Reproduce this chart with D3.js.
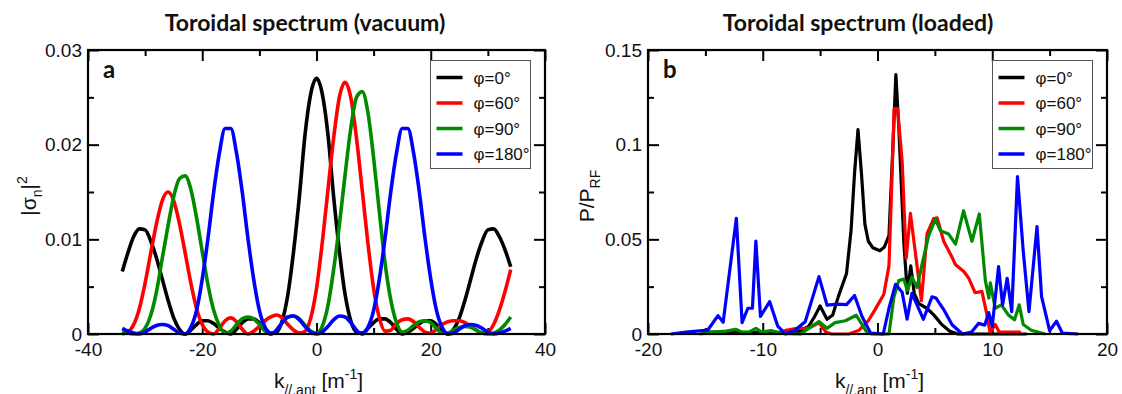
<!DOCTYPE html>
<html>
<head>
<meta charset="utf-8">
<title>Toroidal spectrum</title>
<style>
  body { margin: 0; background: #fff; }
  svg { display: block; }
  text { font-family: "Liberation Sans", Arial, sans-serif; fill: #111; }
</style>
</head>
<body>
<div id="container"></div>
<script src="https://d3js.org/d3.v7.min.js"></script>
<script>
// ---- panel a: vacuum spectrum, sampled every 1 m^-1 ----
const kVacuum = [
  -34, -33, -32, -31, -30, -29, -28, -27, -26, -25,
  -24, -23, -22, -21, -20, -19, -18, -17, -16, -15,
  -14, -13, -12, -11, -10, -9, -8, -7, -6, -5,
  -4, -3, -2, -1, 0, 1, 2, 3, 4, 5,
  6, 7, 8, 9, 10, 11, 12, 13, 14, 15,
  16, 17, 18, 19, 20, 21, 22, 23, 24, 25,
  26, 27, 28, 29, 30, 31, 32, 33, 34
];
const vacPhi0 = [
  .0066, .0086, .0103, .0111, .0110, .0098, .0080, .0058, .0036, .0017,
  .0005, .0000, .0004, .0010, .0014, .0014, .0011, .0006, .0002, .0000,
  .0005, .0012, .0016, .0016, .0012, .0006, .0001, .0002, .0014, .0042,
  .0088, .0145, .0211, .0254, .0270, .0254, .0211, .0145, .0088, .0042,
  .0014, .0002, .0001, .0006, .0012, .0016, .0016, .0012, .0005, .0000,
  .0002, .0006, .0011, .0014, .0014, .0010, .0004, .0000, .0005, .0017,
  .0036, .0058, .0080, .0098, .0110, .0111, .0103, .0089, .0071
];
const vacPhi60 = [
  .0000, .0002, .0010, .0027, .0054, .0086, .0117, .0141, .0150, .0141,
  .0117, .0086, .0054, .0027, .0010, .0002, .0000, .0006, .0014, .0017,
  .0013, .0005, .0000, .0003, .0008, .0014, .0018, .0020, .0017, .0010,
  .0004, .0001, .0003, .0017, .0048, .0096, .0152, .0207, .0250, .0266,
  .0250, .0207, .0152, .0096, .0048, .0017, .0003, .0004, .0011, .0015,
  .0016, .0013, .0007, .0002, .0001, .0005, .0010, .0013, .0014, .0014,
  .0012, .0008, .0004, .0001, .0002, .0010, .0025, .0045, .0068
];
const vacPhi90 = [
  .0003, .0001, .0000, .0001, .0006, .0020, .0045, .0080, .0114, .0145,
  .0164, .0167, .0153, .0123, .0087, .0052, .0025, .0009, .0001, .0003,
  .0010, .0016, .0018, .0016, .0010, .0003, .0000, .0004, .0012, .0018,
  .0019, .0016, .0009, .0003, .0001, .0008, .0030, .0068, .0115, .0168,
  .0217, .0250, .0256, .0234, .0186, .0129, .0075, .0036, .0012, .0002,
  .0004, .0009, .0013, .0014, .0012, .0006, .0001, .0001, .0004, .0007,
  .0008, .0007, .0004, .0001, .0000, .0001, .0004, .0010, .0018
];
const vacPhi180 = [
  .0006, .0003, .0001, .0000, .0002, .0006, .0009, .0010, .0009, .0005,
  .0001, .0000, .0007, .0025, .0058, .0101, .0150, .0191, .0217, .0217,
  .0191, .0150, .0101, .0058, .0025, .0007, .0000, .0004, .0012, .0018,
  .0019, .0015, .0008, .0002, .0000, .0002, .0008, .0015, .0019, .0018,
  .0012, .0004, .0000, .0007, .0025, .0058, .0101, .0150, .0191, .0217,
  .0217, .0191, .0150, .0101, .0058, .0025, .0007, .0000, .0001, .0005,
  .0009, .0010, .0009, .0006, .0002, .0000, .0001, .0003, .0006
];

// ---- panel b: loaded spectrum (piecewise linear traces) ----
const kLoad0 = [-15, -10, -7, -6, -5.5, -5.0, -4.4, -3.9, -3.4, -2.7, -2.3, -2.0, -1.7, -1.4, -1.1, -0.8, -0.4, 0.2, 0.6, 1.0, 1.35, 1.6, 1.85, 2.3, 2.6, 2.9, 3.2, 3.6, 4.3, 4.9, 5.6, 6.3, 7.0, 13];
const pLoad0 = [.001, .0008, .001, .004, .009, .0148, .0078, .010, .020, .032, .055, .085, .108, .085, .058, .049, .0455, .044, .046, .052, .100, .137, .110, .048, .0215, .036, .0215, .016, .0136, .0101, .005, .0015, 0, 0];

const kLoad60 = [-8.5, -8.0, -7, -6, -5.1, -4.5, -4, -2.5, -1.6, -0.8, -0.2, 0.55, 1.0, 1.2, 1.45, 1.75, 2.15, 2.5, 2.87, 3.3, 3.83, 4.32, 4.9, 5.2, 5.77, 6.5, 6.8, 7.5, 7.94, 8.5, 9.1, 9.54, 9.8, 10.26, 10.6, 12.5];
const pLoad60 = [0, .002, .003, .003, .006, .001, 0, 0, .002, .007, .013, .021, .036, .071, .119, .119, .091, .040, .0637, .043, .0176, .053, .061, .0613, .049, .0405, .0366, .0331, .0296, .0218, .0225, .0101, .001, .005, .001, .001];

const kLoad90 = [-15.5, -14.4, -13.2, -12.35, -11.8, -11.2, -10.6, -10.1, -9.3, -8.3, -6.7, -6.0, -5.1, -4.4, -3.7, -2.8, -1.85, -1.0, -0.5, 1.0, 1.42, 1.85, 2.3, 2.6, 3.0, 3.45, 3.88, 4.46, 5.04, 5.48, 6.2, 6.8, 7.5, 8.23, 8.87, 9.4, 9.7, 9.83, 10.26, 10.8, 11.4, 11.94, 12.35, 12.7, 13.4, 14.6];
const pLoad90 = [0, .001, .0015, .0025, .001, .001, .003, .001, .0018, .0003, 0, .003, .0066, .003, .006, .007, .0099, .0015, 0, 0, .0192, .0282, .029, .023, .030, .0246, .0368, .052, .0607, .0546, .0528, .0475, .0651, .049, .0634, .0282, .019, .027, .0136, .0154, .0101, .0075, .0154, .005, .002, 0];

const kLoad180 = [-18, -16.7, -14.8, -13.9, -13.45, -12.3, -11.8, -11.3, -10.9, -10.6, -10.2, -9.4, -8.7, -8.0, -7.2, -6.3, -5.1, -4.4, -3.5, -2.7, -2.0, -1.35, -0.6, 0.5, 1.0, 1.57, 2.15, 2.58, 3.0, 3.45, 4.0, 4.75, 5.1, 5.77, 6.5, 7.4, 8.2, 8.8, 9.35, 9.7, 10.0, 10.55, 10.9, 11.3, 11.7, 12.2, 12.7, 13.2, 13.9, 14.3, 15.0, 15.6, 16.1, 17.5];
const pLoad180 = [0, .001, .002, .0097, .0062, .0611, .006, .0136, .0136, .0491, .0093, .0171, .0042, 0, .002, .0065, .0303, .0153, .0158, .0155, .0203, .0092, .0005, 0, .0136, .0262, .022, .0078, .0215, .0153, .0078, .0196, .019, .0129, .0049, 0, .001, .0056, .0047, .0113, .004, .0356, .0153, .0294, .0118, .0831, .0438, .0118, .0567, .0197, .0018, .0067, .0005, 0];

const legendLabels = ["φ=0°", "φ=60°", "φ=90°", "φ=180°"];
const seriesColors = ["#000000", "#ff0000", "#008a00", "#0000ff"];

const width = 1122, height = 394;

const svg = d3.select("#container").append("svg")
    .attr("width", width)
    .attr("height", height);

/**
 * draws one framed panel with inward ticks on all four sides
 */
function drawPanel(o) {
    const x = d3.scaleLinear().domain(o.xDomain).range([o.left, o.right]);
    const y = d3.scaleLinear().domain(o.yDomain).range([o.bottom, o.top]);
    const g = svg.append("g");
    const fmt = d => String(d);

    // minor ticks
    g.append("g").attr("transform", `translate(0,${o.bottom})`)
        .call(d3.axisBottom(x).tickValues(o.xMinor).tickSize(-6).tickFormat(""));
    g.append("g").attr("transform", `translate(0,${o.top})`)
        .call(d3.axisTop(x).tickValues(o.xMinor).tickSize(-6).tickFormat(""));
    g.append("g").attr("transform", `translate(${o.left},0)`)
        .call(d3.axisLeft(y).tickValues(o.yMinor).tickSize(-6).tickFormat(""));
    g.append("g").attr("transform", `translate(${o.right},0)`)
        .call(d3.axisRight(y).tickValues(o.yMinor).tickSize(-6).tickFormat(""));

    // major ticks with labels
    g.append("g").attr("class", "lab").attr("transform", `translate(0,${o.bottom})`)
        .call(d3.axisBottom(x).tickValues(o.xMajor).tickSize(-11).tickPadding(9).tickFormat(fmt));
    g.append("g").attr("transform", `translate(0,${o.top})`)
        .call(d3.axisTop(x).tickValues(o.xMajor).tickSize(-11).tickFormat(""));
    g.append("g").attr("class", "lab").attr("transform", `translate(${o.left},0)`)
        .call(d3.axisLeft(y).tickValues(o.yMajor).tickSize(-11).tickPadding(6).tickFormat(fmt));
    g.append("g").attr("transform", `translate(${o.right},0)`)
        .call(d3.axisRight(y).tickValues(o.yMajor).tickSize(-11).tickFormat(""));

    g.selectAll(".domain").remove();
    g.selectAll(".tick line").attr("stroke", "#000").attr("stroke-width", 2);
    g.selectAll(".lab text")
        .attr("font-family", "'Liberation Sans', Arial, sans-serif")
        .attr("font-size", 19)
        .attr("fill", "#111");

    // curves
    const line = d3.line()
        .x(d => x(d[0]))
        .y(d => y(d[1]))
        .curve(o.curve);
    g.append("g")
        .selectAll("path")
        .data(o.series)
        .join("path")
        .attr("d", d => line(d3.zip(d.k, d.v)))
        .attr("fill", "none")
        .attr("stroke", (d, i) => seriesColors[i])
        .attr("stroke-width", o.lineWidth)
        .attr("stroke-linejoin", "round");

    // frame
    g.append("rect")
        .attr("x", o.left).attr("y", o.top)
        .attr("width", o.right - o.left).attr("height", o.bottom - o.top)
        .attr("fill", "none").attr("stroke", "#000").attr("stroke-width", 2.2);

    // legend
    const lg = g.append("g").attr("transform", `translate(${o.legendX},${o.legendY})`);
    lg.append("rect")
        .attr("width", 100).attr("height", 108)
        .attr("fill", "#fff").attr("stroke", "#555").attr("stroke-width", 1);
    const rows = lg.selectAll("g.row")
        .data(legendLabels)
        .join("g")
        .attr("class", "row")
        .attr("transform", (d, i) => `translate(0,${17 + i * 25.5})`);
    rows.append("line")
        .attr("x1", 6).attr("x2", 32)
        .attr("stroke", (d, i) => seriesColors[i])
        .attr("stroke-width", 3.5);
    rows.append("text")
        .attr("x", 43).attr("y", 6)
        .attr("font-size", 17)
        .text(d => d);

    // title
    svg.append("text")
        .attr("x", o.titleX).attr("y", 31)
        .attr("text-anchor", "middle")
        .style("font-family", "Lato, 'Open Sans', sans-serif")
        .attr("font-weight", "bold")
        .attr("font-size", 23)
        .text(o.title);

    // panel letter
    svg.append("text")
        .attr("x", o.left + 15).attr("y", 78)
        .style("font-family", "Lato, 'Open Sans', sans-serif")
        .attr("font-weight", "bold")
        .attr("font-size", 24)
        .text(o.letter);

    // x label: k_{//,ant} [m^-1]
    const xl = svg.append("text")
        .attr("x", (o.left + o.right) / 2 + 2).attr("y", 388)
        .attr("text-anchor", "middle")
        .attr("font-size", 21);
    xl.append("tspan").text("k");
    xl.append("tspan").attr("dy", 7).attr("font-size", 14).text("//,ant");
    xl.append("tspan").attr("dy", -7).text(" [m");
    xl.append("tspan").attr("dy", -9).attr("font-size", 14).text("-1");
    xl.append("tspan").attr("dy", 9).text("]");

    // y label (rotated)
    const yl = svg.append("text")
        .attr("transform", `translate(${o.yLabelX},${o.yLabelY}) rotate(-90)`)
        .attr("text-anchor", "middle")
        .attr("font-size", 21);
    o.yLabel(yl);

    return { x, y };
}

drawPanel({
    left: 88, right: 545, top: 50, bottom: 334,
    xDomain: [-40, 40], yDomain: [0, 0.03],
    xMajor: [-40, -20, 0, 20, 40], xMinor: [-30, -10, 10, 30],
    yMajor: [0, 0.01, 0.02, 0.03], yMinor: [0.005, 0.015, 0.025],
    curve: d3.curveMonotoneX,
    lineWidth: 3.6,
    series: [
        { k: kVacuum, v: vacPhi0 },
        { k: kVacuum, v: vacPhi60 },
        { k: kVacuum, v: vacPhi90 },
        { k: kVacuum, v: vacPhi180 }
    ],
    legendX: 430.5, legendY: 60.5,
    title: "Toroidal spectrum (vacuum)", titleX: 305,
    letter: "a",
    yLabelX: 36, yLabelY: 196,
    yLabel: t => {
        t.append("tspan").text("|σ");
        t.append("tspan").attr("dy", 6).attr("font-size", 14).text("n");
        t.append("tspan").attr("dy", -6).text("|");
        t.append("tspan").attr("dy", -9).attr("font-size", 14).text("2");
    }
});

drawPanel({
    left: 648, right: 1107, top: 50, bottom: 334,
    xDomain: [-20, 20], yDomain: [0, 0.15],
    xMajor: [-20, -10, 0, 10, 20], xMinor: [-15, -5, 5, 15],
    yMajor: [0, 0.05, 0.1, 0.15], yMinor: [0.025, 0.075, 0.125],
    curve: d3.curveLinear,
    lineWidth: 3.2,
    series: [
        { k: kLoad0, v: pLoad0 },
        { k: kLoad60, v: pLoad60 },
        { k: kLoad90, v: pLoad90 },
        { k: kLoad180, v: pLoad180 }
    ],
    legendX: 992.5, legendY: 60.5,
    title: "Toroidal spectrum (loaded)", titleX: 858,
    letter: "b",
    yLabelX: 594, yLabelY: 196,
    yLabel: t => {
        t.append("tspan").text("P/P");
        t.append("tspan").attr("dy", 6).attr("font-size", 14).text("RF");
    }
});
</script>
</body>
</html>
